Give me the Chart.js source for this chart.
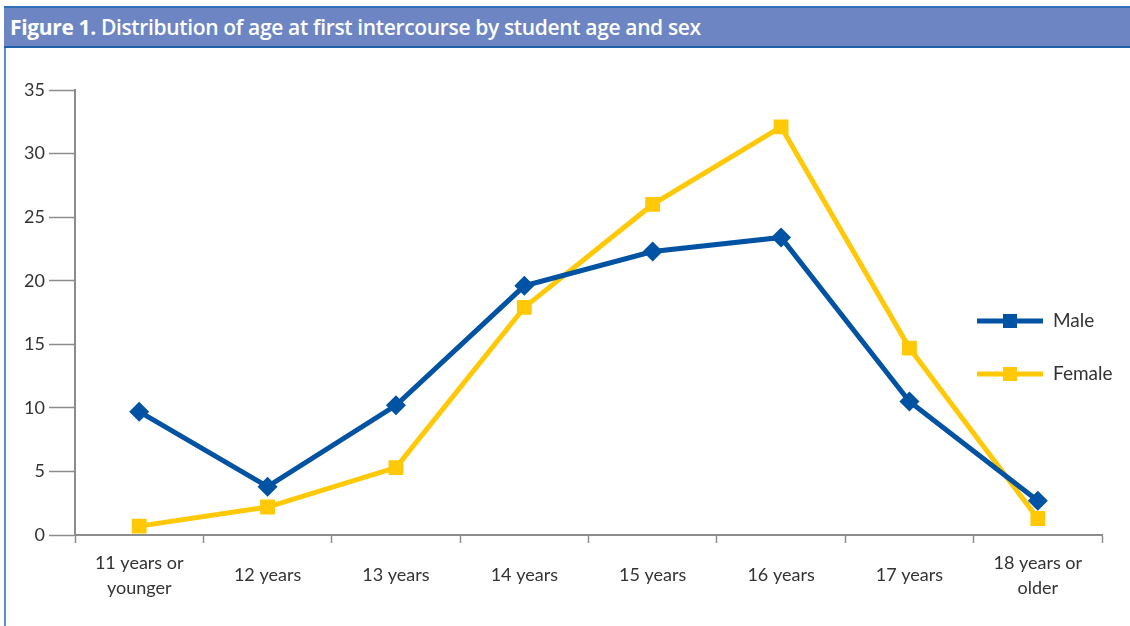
<!DOCTYPE html>
<html>
<head>
<meta charset="utf-8">
<script src="https://cdn.jsdelivr.net/npm/chart.js@4.4.1/dist/chart.umd.min.js"></script>
<style>
  html, body { margin: 0; padding: 0; background: #ffffff; }
  body { width: 1130px; height: 626px; position: relative; overflow: hidden; }
  #frameLeft { position: absolute; left: 4px; top: 6px; width: 2px; height: 620px; background: #5b8fd0; }
  #band { position: absolute; left: 4px; top: 6px; width: 1126px; height: 38px;
          background: #6d86c3; border-top: 2px solid #2f6fb6; border-bottom: 2px solid #1f5fa8; }
  #title { position: absolute; left: 10px; top: 12px; height: 30px; line-height: 30px; color: #ffffff; white-space: nowrap;
           font-family: "Open Sans", sans-serif; font-size: 21px; font-weight: 600; letter-spacing: -0.35px; }
  #title b { font-weight: 700; }
  #wrap { position: absolute; left: 0; top: 0; width: 1130px; height: 626px; }
</style>
</head>
<body>
<div id="frameLeft"></div>
<div id="band"></div>
<div id="title"><b>Figure 1.</b> Distribution of age at first intercourse by student age and sex</div>
<div id="wrap"><canvas id="c" width="1130" height="626"></canvas></div>
<script>
const categories = [["11 years or", "younger"], "12 years", "13 years", "14 years", "15 years", "16 years", "17 years", ["18 years or", "older"]];
const maleValues = [9.7, 3.8, 10.2, 19.6, 22.3, 23.4, 10.5, 2.7];
const femaleValues = [0.7, 2.2, 5.3, 17.9, 26.0, 32.1, 14.7, 1.3];
const yTicks = [0, 5, 10, 15, 20, 25, 30, 35];
const seriesNames = ["Male", "Female"];

const MALE = "#0052a2";
const FEMALE = "#ffc907";
const AXIS = "#8c8c8c";
const TXT = "#333333";
const FONT = "Lato, 'Open Sans', sans-serif";

const legendPlugin = {
  id: "customLegend",
  afterDraw(chart) {
    const ctx = chart.ctx;
    const items = [
      { label: seriesNames[0], color: MALE, y: 321 },
      { label: seriesNames[1], color: FEMALE, y: 374 }
    ];
    ctx.save();
    items.forEach(it => {
      ctx.strokeStyle = it.color;
      ctx.lineWidth = 5;
      ctx.beginPath();
      ctx.moveTo(977, it.y);
      ctx.lineTo(1043, it.y);
      ctx.stroke();
      ctx.fillStyle = it.color;
      ctx.fillRect(1003, it.y - 7, 14, 14);
      ctx.fillStyle = TXT;
      ctx.font = "400 19px " + FONT;
      ctx.textAlign = "left";
      ctx.textBaseline = "middle";
      ctx.fillText(it.label, 1053, it.y);
    });
    ctx.restore();
  }
};

new Chart(document.getElementById("c"), {
  type: "line",
  data: {
    labels: categories,
    datasets: [
      { label: seriesNames[0], data: maleValues, borderColor: MALE, backgroundColor: MALE,
        borderWidth: 5, pointStyle: "rectRot", pointRadius: 10, pointBorderWidth: 0,
        pointBackgroundColor: MALE, tension: 0 },
      { label: seriesNames[1], data: femaleValues, borderColor: FEMALE, backgroundColor: FEMALE,
        borderWidth: 5, pointStyle: "rect", pointRadius: 10.5, pointBorderWidth: 0,
        pointBackgroundColor: FEMALE, tension: 0 }
    ]
  },
  options: {
    responsive: false,
    animation: false,
    devicePixelRatio: 1,
    layout: { padding: { left: 0, right: 28, top: 90, bottom: 0 } },
    plugins: { legend: { display: false }, tooltip: { enabled: false } },
    elements: { line: { borderJoinStyle: "miter", borderCapStyle: "butt" } },
    scales: {
      x: {
        offset: true,
        grid: { offset: true, drawOnChartArea: false, drawTicks: true, tickLength: 8, tickColor: AXIS, tickWidth: 1.5 },
        border: { color: AXIS, width: 2 },
        ticks: { color: TXT, font: { family: FONT, size: 18, weight: 400, lineHeight: 1.39 },
                 padding: 20, maxRotation: 0, autoSkip: false, crossAlign: "center" },
        afterFit(scale) { scale.height = 91; }
      },
      y: {
        min: 0, max: 35,
        afterBuildTicks(scale) { scale.ticks = yTicks.map(v => ({ value: v })); },
        grid: { drawOnChartArea: false, drawTicks: true, tickLength: 26, tickColor: AXIS, tickWidth: 1.5 },
        border: { color: AXIS, width: 2 },
        ticks: { color: TXT, font: { family: FONT, size: 18, weight: 400 }, padding: 4 },
        afterFit(scale) { scale.width = 75; }
      }
    }
  },
  plugins: [legendPlugin]
});
</script>
</body>
</html>
